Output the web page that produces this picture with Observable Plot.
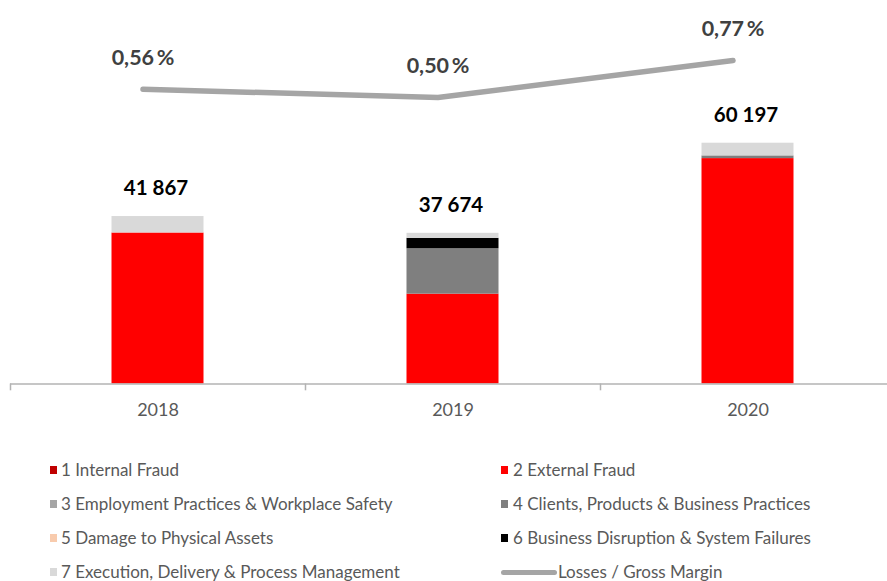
<!DOCTYPE html>
<html>
<head>
<meta charset="utf-8">
<script src="https://cdn.jsdelivr.net/npm/d3@7"></script>
<script src="https://cdn.jsdelivr.net/npm/@observablehq/plot@0.6"></script>
<style>
  html, body { margin: 0; padding: 0; background: #fff; }
  #wrap { position: relative; width: 887px; height: 581px; overflow: hidden; font-family: Lato, "Open Sans", sans-serif; }
  #bars, #line { position: absolute; left: 0; top: 0; }
  #legend { position: absolute; left: 0; top: 0; width: 887px; height: 581px; pointer-events: none; }
  .item { position: absolute; font-size: 17px; color: #595959; line-height: 20px; white-space: nowrap; }
  .sw { position: absolute; width: 7px; height: 8px; }
  .ln { position: absolute; height: 5px; border-radius: 3px; background: #a5a5a5; }
</style>
</head>
<body>
<div id="wrap">
  <div id="bars"></div>
  <div id="line"></div>
  <div id="legend"></div>
</div>
<script>
// ---- data ----
const years = ["2018", "2019", "2020"];
const categories = [
  "1 Internal Fraud",
  "2 External Fraud",
  "3 Employment Practices & Workplace Safety",
  "4 Clients, Products & Business Practices",
  "5 Damage to Physical Assets",
  "6 Business Disruption & System Failures",
  "7 Execution, Delivery & Process Management"
];
const colors = ["#c00000", "#ff0000", "#a5a5a5", "#7f7f7f", "#f8cbad", "#000000", "#d9d9d9"];
const internalFraud = [0, 0, 0];
const externalFraud = [37750, 22458, 56351];
const employmentPractices = [0, 0, 0];
const clientsProducts = [0, 11355, 674];
const damageAssets = [0, 0, 0];
const businessDisruption = [0, 2599, 0];
const executionDelivery = [4117, 1262, 3172];
const totals = [41867, 37674, 60197];
const lossRatio = [0.56, 0.50, 0.77]; // percent
const lineLabel = "Losses / Gross Margin";

// ---- build tables ----
const seriesValues = [internalFraud, externalFraud, employmentPractices, clientsProducts, damageAssets, businessDisruption, executionDelivery];
const stacked = [];
years.forEach((yr, i) => {
  categories.forEach((c, k) => stacked.push({year: yr, cat: c, value: seriesValues[k][i]}));
});
const totalRows = years.map((yr, i) => ({year: yr, total: totals[i]}));
const ratioRows = years.map((yr, i) => ({year: yr, ratio: lossRatio[i]}));

const loc = d3.formatLocale({decimal: ",", thousands: "\u00a0", grouping: [3], currency: ["", ""]});
const fmtInt = loc.format(",d");
const fmtPct = v => loc.format(".2f")(v) + "\u2009%";

const W = 887;
const xScale = {type: "band", domain: years, range: [10, 895], padding: 0};
const half = (895 - 10) / years.length / 2;

const barsPlot = Plot.plot({
  width: W,
  height: 440,
  marginLeft: 10,
  marginRight: 0,
  marginTop: 0,
  marginBottom: 57,
  style: {fontFamily: "Lato, 'Open Sans', sans-serif", background: "transparent", overflow: "visible"},
  x: xScale,
  y: {domain: [0, 60000], range: [383.5, 143.5], axis: null},
  color: {domain: categories, range: colors},
  marks: [
    Plot.barY(stacked, Plot.stackY({x: "year", y: "value", fill: "cat", order: categories, insetLeft: 101.5, insetRight: 101.5})),
    Plot.ruleY([0], {stroke: "#b3b3b3", strokeWidth: 1.5}),
    Plot.ruleX(years, {x: d => d, dx: -half, y1: 0, y2: -1700, stroke: "#b3b3b3", strokeWidth: 1.5}),
    Plot.axisX({tickSize: 0, tickPadding: 20, fontSize: 18, fill: "#595959", label: null}),
    Plot.text(totalRows, {x: "year", y: "total", text: d => fmtInt(d.total), dy: -28, dx: -2, fontSize: 20.5, fontWeight: "bold", fill: "#000000"})
  ]
});
document.getElementById("bars").appendChild(barsPlot);

const linePlot = Plot.plot({
  width: W,
  height: 130,
  marginLeft: 10,
  marginRight: 0,
  marginTop: 0,
  marginBottom: 0,
  style: {fontFamily: "Lato, 'Open Sans', sans-serif", background: "transparent"},
  x: {...xScale, axis: null},
  y: {domain: [0.5, 0.77], range: [97, 60], axis: null},
  marks: [
    Plot.line(ratioRows, {x: "year", y: "ratio", dx: -15, stroke: "#a5a5a5", strokeWidth: 5.5, strokeLinecap: "round", strokeLinejoin: "round"}),
    Plot.text(ratioRows, {x: "year", y: "ratio", dx: -15, dy: -31, text: d => fmtPct(d.ratio), fontSize: 21.5, fontWeight: "bold", fill: "#404040"})
  ]
});
document.getElementById("line").appendChild(linePlot);

// ---- legend (HTML) ----
const legend = document.getElementById("legend");
const rowsY = [470, 504, 538, 572];
categories.forEach((c, k) => {
  const col = k % 2, row = Math.floor(k / 2);
  const sx = col === 0 ? 50 : 501;
  const tx = col === 0 ? 61 : 513;
  const sw = document.createElement("div");
  sw.className = "sw";
  sw.style.left = sx + "px";
  sw.style.top = (rowsY[row] - 4) + "px";
  sw.style.background = colors[k];
  legend.appendChild(sw);
  const t = document.createElement("div");
  t.className = "item";
  t.style.left = tx + "px";
  t.style.top = (rowsY[row] - 10) + "px";
  t.textContent = c;
  legend.appendChild(t);
});
const ln = document.createElement("div");
ln.className = "ln";
ln.style.left = "501px";
ln.style.width = "56px";
ln.style.top = (rowsY[3] - 2) + "px";
legend.appendChild(ln);
const lt = document.createElement("div");
lt.className = "item";
lt.style.left = "558px";
lt.style.top = (rowsY[3] - 10) + "px";
lt.textContent = lineLabel;
legend.appendChild(lt);
</script>
</body>
</html>
